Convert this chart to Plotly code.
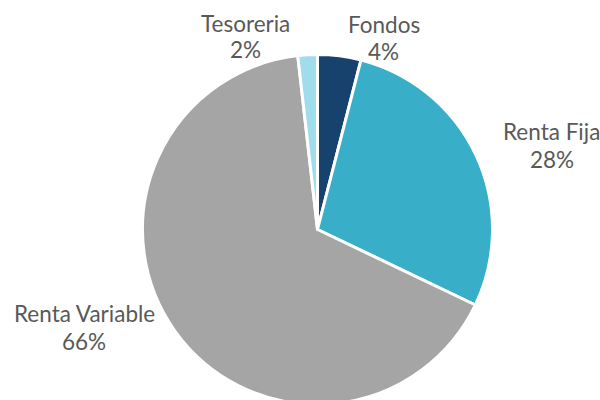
import plotly.graph_objects as go

labels = ["Fondos", "Renta Fija", "Renta Variable", "Tesoreria"]
values = [4.0, 28.1, 66.1, 1.8]
colors = ["#17426E", "#38AEC9", "#A5A5A5", "#A0DCEC"]

# label positions (pixel centres of name line and percent line)
label_x = [383.5, 551.5, 84, 246]
name_y = [23.5, 130, 312, 22]
pct_y = [50, 158, 340, 48]

W, H = 600, 410  # a bit taller than the window; bottom is cropped like the reference
cx, cy, r = 317.5, 229.5, 175

total = sum(values)
pcts = [round(v / total * 100) for v in values]

fig = go.Figure(go.Pie(
    labels=labels, values=values, sort=False, direction="clockwise", rotation=0,
    marker=dict(colors=colors, line=dict(color="white", width=3)),
    textinfo="none", hoverinfo="label+percent", showlegend=False,
    domain=dict(x=[(cx - r) / W, (cx + r) / W], y=[1 - (cy + r) / H, 1 - (cy - r) / H]),
))

font = dict(family="Lato, Open Sans, sans-serif", size=22.5, color="#595959")
for lab, p, x, y1, y2 in zip(labels, pcts, label_x, name_y, pct_y):
    for txt, y in ((lab, y1), (f"{p}%", y2)):
        fig.add_annotation(
            x=x / W, y=1 - (y + 1) / H, xref="paper", yref="paper",
            text=txt, showarrow=False, font=font,
            xanchor="center", yanchor="middle",
        )

fig.update_layout(width=W, height=H, margin=dict(l=0, r=0, t=0, b=0),
                  paper_bgcolor="white", plot_bgcolor="white")
fig.write_html(
    "out.html",
    config={"displayModeBar": False},
    post_script="document.body.style.margin='0';document.body.style.overflow='hidden';",
)
